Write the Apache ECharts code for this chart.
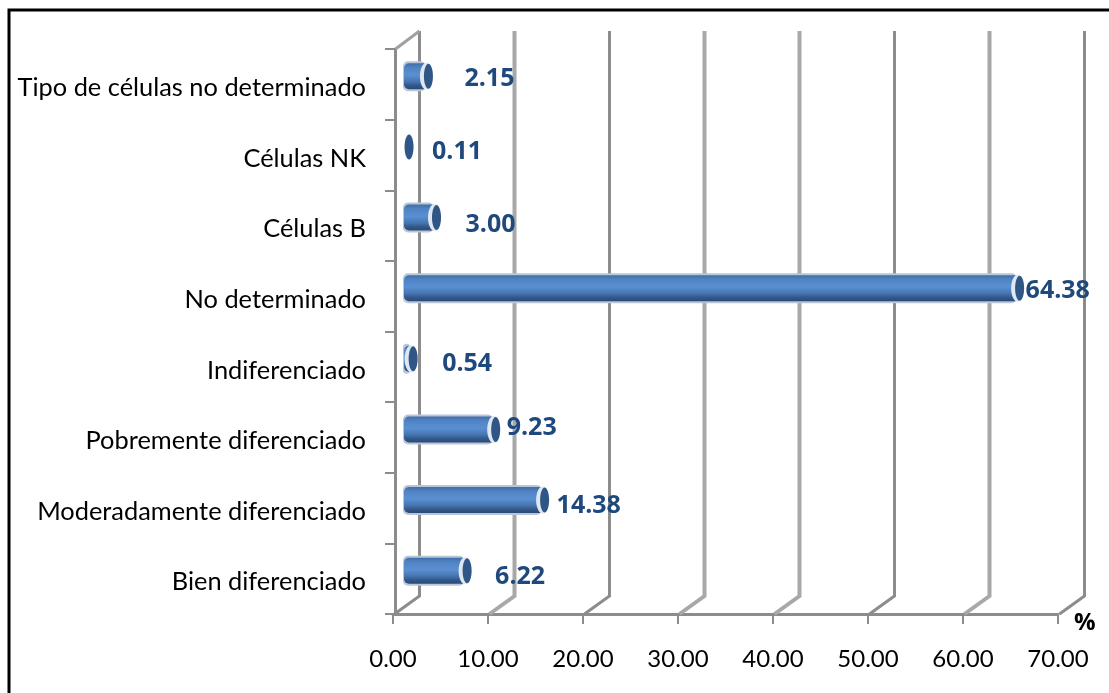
<!DOCTYPE html>
<html>
<head>
<meta charset="utf-8">
<style>
html, body { margin: 0; padding: 0; background: #fff; }
#main { width: 1109px; height: 693px; }
</style>
<script src="https://cdn.jsdelivr.net/npm/echarts@6/dist/echarts.min.js"></script>
</head>
<body>
<div id="main"></div>
<script>
const categories = ['Bien diferenciado', 'Moderadamente diferenciado', 'Pobremente diferenciado', 'Indiferenciado', 'No determinado', 'Células B', 'Células NK', 'Tipo de células no determinado']
const values = [6.22, 14.38, 9.23, 0.54, 64.38, 3.00, 0.11, 2.15]
const valueLabels = ['6.22', '14.38', '9.23', '0.54', '64.38', '3.00', '0.11', '2.15']
const xTicks = [0, 10, 20, 30, 40, 50, 60, 70]

// the original labels are not evenly placed, so each one gets its own nudge
const labelGaps = [24, 8, 7, 25, 2, 25, 19, 32]
const labelDrops = [6, 6, -2, 5, 3, 7, 5, 3]
// these wall lines come out blurred and paler in the original
const paleWalls = [10, 30, 40, 60]

const DEPTH_X = 26
const DEPTH_Y = 18
const BAR_START = 11
const BAR_LIFT = 8
const BAR_H = 26

const charts = echarts.init(document.getElementById('main'))

function renderWall (params, api) {
  const rect = params.coordSys
  const t = api.value(0)
  const p = api.coord([t, 0])
  const x0 = Math.round(p[0]) + 0.5
  const y0 = rect.y + rect.height
  const top = rect.y - DEPTH_Y
  const pale = paleWalls.includes(t)
  const children = [{
    type: 'polyline',
    silent: true,
    shape: { points: [[x0 + 1, y0], [x0 + DEPTH_X, y0 - DEPTH_Y], [x0 + DEPTH_X, top]] },
    style: { fill: 'none', stroke: pale ? '#a8a8a8' : '#8c8c8c', lineWidth: pale ? 4 : 3 }
  }]
  // slanted top edge of the left wall
  if (t === 0) {
    children.push({
      type: 'line',
      silent: true,
      shape: { x1: x0 + 2, y1: rect.y, x2: x0 + DEPTH_X, y2: top },
      style: { stroke: '#a0a0a0', lineWidth: 3 }
    })
  }
  return { type: 'group', children }
}

function renderBar (params, api) {
  const i = api.value(0)
  const p = api.coord([api.value(1), i])
  const zero = api.coord([0, i])
  const cy = p[1] - BAR_LIFT
  const x0 = zero[0] + BAR_START
  const x1 = p[0] + BAR_START
  const top = cy - BAR_H / 2
  const ry = BAR_H / 2 - 0.5
  const rx = 4.5
  const children = []
  // too short for a body, only the end cap shows
  if (x1 - x0 > 2) {
    children.push(
      {
        type: 'rect',
        shape: { x: x0 - 1, y: top - 2, width: x1 - x0 + 2, height: BAR_H + 4, r: 5 },
        style: { fill: '#b9c6d8' }
      },
      {
        type: 'rect',
        shape: { x: x0, y: top, width: x1 - x0, height: BAR_H, r: [5, 0, 0, 5] },
        style: {
          fill: new echarts.graphic.LinearGradient(0, 0, 0, 1, [
            { offset: 0, color: '#3f6ea8' },
            { offset: 0.15, color: '#4f82c2' },
            { offset: 0.45, color: '#5a90d2' },
            { offset: 0.7, color: '#4676b2' },
            { offset: 0.85, color: '#33598a' },
            { offset: 1, color: '#2a4a76' }
          ])
        }
      },
      {
        type: 'ellipse',
        shape: { cx: x1 + 2, cy: cy, rx: rx + 2, ry: ry + 1 },
        style: { fill: '#dfe7f1' }
      }
    )
  }
  children.push(
    {
      type: 'ellipse',
      shape: { cx: x1 + 4, cy: cy, rx: rx, ry: ry },
      style: { fill: '#2f5686' }
    },
    {
      type: 'text',
      style: {
        x: x1 + 8 + labelGaps[i],
        y: cy + labelDrops[i],
        text: valueLabels[i],
        fill: '#1f497d',
        font: 'bold 25px "Open Sans", sans-serif',
        align: 'left',
        verticalAlign: 'middle'
      }
    }
  )
  return { type: 'group', children }
}

const options = {
  backgroundColor: '#fff',
  animation: false,
  graphic: [
    {
      type: 'polyline',
      shape: { points: [[9, 693], [9, 10], [1109, 10]] },
      style: { fill: 'none', stroke: '#000', lineWidth: 3 }
    }
  ],
  grid: {
    left: 393,
    right: 51,
    top: 49,
    bottom: 79
  },
  xAxis: {
    type: 'value',
    min: 0,
    max: 70,
    interval: 10,
    splitLine: { show: false },
    name: '%',
    nameLocation: 'end',
    nameGap: 16,
    nameTextStyle: { color: '#000', fontWeight: 'bold', fontSize: 24, fontFamily: 'Open Sans', verticalAlign: 'top', lineHeight: 18 },
    axisLine: { show: true, lineStyle: { color: '#8c8c8c', width: 3 } },
    axisTick: { show: true, length: 10, lineStyle: { color: '#8c8c8c', width: 2 } },
    axisLabel: {
      color: '#000',
      fontSize: 24,
      fontFamily: 'Lato',
      margin: 33,
      formatter: val => val.toFixed(2)
    }
  },
  yAxis: {
    type: 'category',
    data: categories,
    boundaryGap: true,
    offset: -2,
    axisLine: { show: true, onZero: false, lineStyle: { color: '#8c8c8c', width: 3 } },
    axisTick: { show: true, length: 10, lineStyle: { color: '#8c8c8c', width: 2 } },
    axisLabel: {
      color: '#000',
      fontSize: 25.4,
      fontFamily: 'Lato',
      margin: 29,
      verticalAlign: 'top',
      lineHeight: 7
    }
  },
  series: [
    {
      type: 'custom',
      name: 'wall',
      silent: true,
      z: 1,
      coordinateSystem: 'cartesian2d',
      encode: { x: 0 },
      data: xTicks.map(t => [t]),
      renderItem: renderWall
    },
    {
      type: 'custom',
      name: '%',
      z: 3,
      coordinateSystem: 'cartesian2d',
      encode: { x: 1, y: 0 },
      data: values.map((v, i) => [i, v]),
      renderItem: renderBar
    }
  ]
}
charts.setOption(options)
</script>
</body>
</html>
